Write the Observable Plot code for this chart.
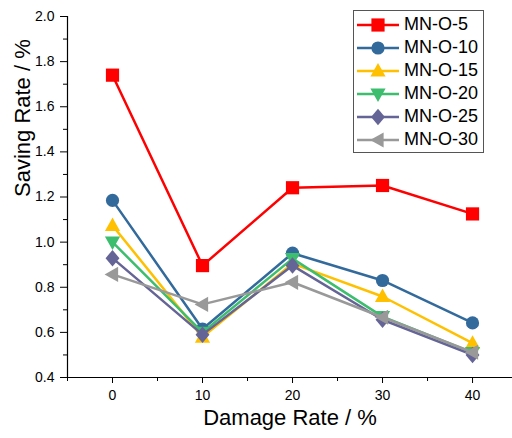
<!DOCTYPE html>
<html><head><meta charset="utf-8">
<script src="https://cdn.jsdelivr.net/npm/d3@7"></script>
<script src="https://cdn.jsdelivr.net/npm/@observablehq/plot@0.6"></script>
<style>
body{margin:0;background:#fff;font-family:"Liberation Sans",Arial,sans-serif}
#wrap{position:relative;width:512px;height:438px;overflow:hidden}
#legend{position:absolute;left:353px;top:10px;width:131px;height:143px;border:1px solid #555;background:#fff;box-sizing:border-box;padding-top:2px}
.row{display:flex;align-items:center;height:23px}
.row svg{margin-left:3px;margin-right:5px}
.row span{font-size:18px;color:#000;line-height:23px}
</style></head><body><div id="wrap"></div>
<script>
const damageRate = [0, 10, 20, 30, 40];
const seriesNames = ["MN-O-5", "MN-O-10", "MN-O-15", "MN-O-20", "MN-O-25", "MN-O-30"];
const mnO5  = [1.74, 0.896, 1.241, 1.251, 1.125];
const mnO10 = [1.185, 0.615, 0.951, 0.83, 0.642];
const mnO15 = [1.074, 0.579, 0.905, 0.759, 0.552];
const mnO20 = [1.0, 0.60, 0.927, 0.67, 0.51];
const mnO25 = [0.929, 0.59, 0.896, 0.656, 0.50];
const mnO30 = [0.857, 0.724, 0.822, 0.667, 0.512];
const seriesColors = ["#ff0000", "#336a9c", "#ffc000", "#3dbd6e", "#646496", "#999999"];
const yMajor = [0.4, 0.6, 0.8, 1.0, 1.2, 1.4, 1.6, 1.8, 2.0];
const yMinor = [0.5, 0.7, 0.9, 1.1, 1.3, 1.5, 1.7, 1.9];
const xMajor = [0, 10, 20, 30, 40];
const xMinor = [-5, 5, 15, 25, 35];

const allValues = [mnO5, mnO10, mnO15, mnO20, mnO25, mnO30];

const rad = s => Math.sqrt(s / Math.PI);
const symSquare = {draw(c, s){const r = rad(s); c.rect(-r, -r, 2*r, 2*r);}};
const symCircle = {draw(c, s){const r = rad(s); c.moveTo(r, 0); c.arc(0, 0, r, 0, 2*Math.PI);}};
const symUp = {draw(c, s){const r = rad(s); c.moveTo(0, -1.2*r); c.lineTo(1.15*r, 0.85*r); c.lineTo(-1.15*r, 0.85*r); c.closePath();}};
const symDown = {draw(c, s){const r = rad(s); c.moveTo(0, 1.2*r); c.lineTo(1.15*r, -0.85*r); c.lineTo(-1.15*r, -0.85*r); c.closePath();}};
const symDiamond = {draw(c, s){const r = rad(s); c.moveTo(0, -1.25*r); c.lineTo(1.05*r, 0); c.lineTo(0, 1.25*r); c.lineTo(-1.05*r, 0); c.closePath();}};
const symLeft = {draw(c, s){const r = rad(s); c.moveTo(-1.2*r, 0); c.lineTo(0.85*r, -1.15*r); c.lineTo(0.85*r, 1.15*r); c.closePath();}};
const symbols = [symSquare, symCircle, symUp, symDown, symDiamond, symLeft];
const R = 6.6;

const marks = [
  Plot.axisY({ticks: yMajor, tickSize: 7, tickPadding: 6, tickFormat: d => d.toFixed(1), fontSize: 14, label: null}),
  Plot.axisY({ticks: yMinor, tickSize: 4, tickFormat: () => "", label: null}),
  Plot.axisX({ticks: xMajor, tickSize: 6, tickPadding: 7, fontSize: 14, label: null}),
  Plot.axisX({ticks: xMinor, tickSize: 4, tickFormat: () => "", label: null}),
  Plot.ruleX([-5], {stroke: "#000", strokeWidth: 1.2}),
  Plot.ruleY([0.4], {stroke: "#000", strokeWidth: 1.2}),
  Plot.text(["Saving Rate / %"], {frameAnchor: "left", text: d => d, dx: -45, rotate: -90, fontSize: 22, fill: "#000"}),
  Plot.text(["Damage Rate / %"], {frameAnchor: "bottom", text: d => d, dy: 47, fontSize: 22, fill: "#000"})
];
seriesNames.forEach((name, i) => {
  const data = damageRate.map((x, j) => ({x, y: allValues[i][j]}));
  marks.push(Plot.line(data, {x: "x", y: "y", stroke: seriesColors[i], strokeWidth: 2.5}));
  marks.push(Plot.dot(data, {x: "x", y: "y", fill: seriesColors[i], stroke: "none", r: R, symbol: symbols[i]}));
});

const chart = Plot.plot({
  width: 512, height: 438,
  marginLeft: 67, marginRight: 0, marginTop: 16, marginBottom: 61,
  style: {color: "#000", background: "#fff", fontFamily: "'Liberation Sans', Arial, sans-serif"},
  x: {domain: [-5, 44.44], label: null},
  y: {domain: [0.4, 2.0], label: null},
  marks
});
const wrap = document.getElementById("wrap");
wrap.appendChild(chart);

const legend = document.createElement("div");
legend.id = "legend";
seriesNames.forEach((name, i) => {
  const p = d3.path();
  symbols[i].draw(p, R * R * Math.PI);
  const row = document.createElement("div");
  row.className = "row";
  row.innerHTML = `<svg width="42" height="20"><line x1="0" x2="42" y1="10" y2="10" stroke="${seriesColors[i]}" stroke-width="2.5"/><path transform="translate(21,10)" d="${p.toString()}" fill="${seriesColors[i]}"/></svg><span>${name}</span>`;
  legend.appendChild(row);
});
wrap.appendChild(legend);
</script>
</body></html>
